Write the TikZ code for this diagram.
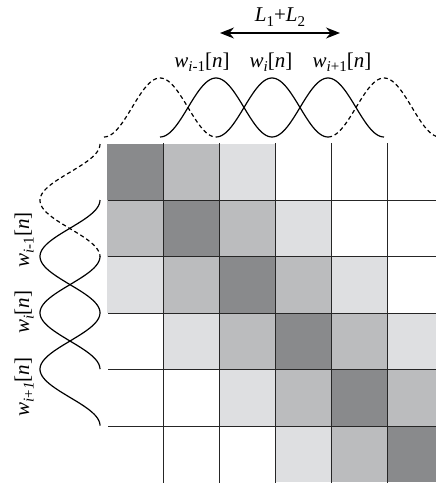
\documentclass[tikz,border=0pt]{standalone}
\usepackage{fontspec}
\setmainfont{Liberation Serif}
\usetikzlibrary{arrows.meta}
\definecolor{cdark}{RGB}{137,138,140}
\definecolor{cmid}{RGB}{187,188,190}
\definecolor{clight}{RGB}{222,223,225}
\newcommand{\subtx}[1]{\raisebox{-0.22em}{\fontsize{15}{15}\selectfont #1}}
\newcommand{\wlab}[1]{\textit{w}\subtx{#1}[\textit{n}]}
\begin{document}
\begin{tikzpicture}[x=1pt,y=-1pt,
  lab/.style={font=\fontsize{21}{24}\selectfont, inner sep=0pt, anchor=base},
  win/.style={line width=1.2pt, black},
  dwin/.style={win, dash pattern=on 4pt off 3pt},
  gridline/.style={line width=0.9pt, black!85}]
\clip (0,0) rectangle (436,483);
% shaded cells
\foreach \r in {0,...,5} {
  \foreach \c in {0,...,5} {
    \pgfmathtruncatemacro\d{abs(\r-\c)}
    \ifnum\d=0 \fill[cdark] (107+56*\c,144+56.4*\r) rectangle ++(56,56.4);\fi
    \ifnum\d=1 \fill[cmid] (107+56*\c,144+56.4*\r) rectangle ++(56,56.4);\fi
    \ifnum\d=2 \fill[clight] (107+56*\c,144+56.4*\r) rectangle ++(56,56.4);\fi
  }
}
% grid lines
\foreach \c in {1,...,5} \draw[gridline] (107+56*\c,143) -- (107+56*\c,483);
\foreach \r in {1,...,5} \draw[gridline] (108,144+56.4*\r) -- (436,144+56.4*\r);
% top windows
\foreach \a/\s in {104/dwin,160/win,216/win,272/win,328/dwin}
  \draw[\s] plot[domain=0:112,samples=60,smooth] ({\a+\x},{137-29.5*(1-cos(3.2142857*\x))});
% left windows
\foreach \b/\s in {144/dwin,200/win,256.4/win,312.8/win}
  \draw[\s] plot[domain=0:112.8,samples=60,smooth] ({100-30*(1-cos(3.1914894*\x))},{\b+\x});
% arrow
\coordinate (al) at (220,33);
\coordinate (ar) at (340,33);
\draw[{Stealth[length=14pt,width=11pt]}-{Stealth[length=14pt,width=11pt]}, line width=1.2pt] (al) -- (ar);
% labels
\node[lab] (lsum) at (280,21.5) {\textit{L}\subtx{1}+\textit{L}\subtx{2}};
\node[lab] (wa) at (202,67) {\wlab{\textit{i}-1}};
\node[lab] (wb) at (271,67) {\wlab{\textit{i}}};
\node[lab] (wc) at (342,67) {\wlab{\textit{i}+1}};
\node[lab,rotate=90] (va) at (29,240) {\wlab{\textit{i}-1}};
\node[lab,rotate=90] (vb) at (29,312) {\wlab{\textit{i}}};
\node[lab,rotate=90] (vc) at (29,387) {\wlab{\textit{i}+\textit{1}}};
\end{tikzpicture}
\end{document}
